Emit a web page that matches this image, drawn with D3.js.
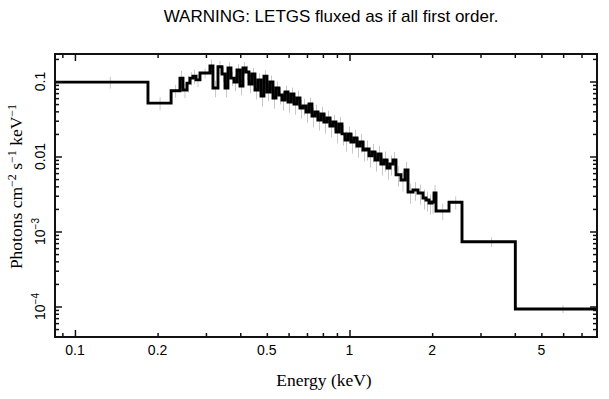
<!DOCTYPE html>
<html>
<head>
<meta charset="utf-8">
<script src="https://cdn.jsdelivr.net/npm/d3@7"></script>
<style>
  body { margin: 0; background: #fff; }
  svg { display: block; }
  .tick-label { font-family: 'Liberation Sans', Arial, sans-serif; font-size: 14px; fill: #000; }
  .axis-label { font-family: 'Liberation Serif', 'Times New Roman', serif; font-size: 17.5px; fill: #000; }
  .title-label { font-family: 'Liberation Sans', Arial, sans-serif; font-size: 17px; fill: #000; }
</style>
</head>
<body>
<svg width="609" height="399"></svg>
<script>
const svg = d3.select('svg');
const width = +svg.attr('width');
const height = +svg.attr('height');

// bin edges (keV), 87 edges -> 86 bins
const binEdges = [0.0846, 0.1845, 0.224, 0.2413, 0.2475, 0.2559, 0.2624, 0.2691, 0.2760, 0.2854,
  0.3103, 0.3182, 0.3319, 0.3432, 0.3520, 0.3609, 0.3701, 0.3796, 0.3892, 0.3991,
  0.4093, 0.4197, 0.4304, 0.4414, 0.4526, 0.4642, 0.4760, 0.4881, 0.5006, 0.5133,
  0.5264, 0.5398, 0.5536, 0.5677, 0.5821, 0.5970, 0.6122, 0.6278, 0.6438, 0.6602,
  0.6770, 0.6943, 0.7120, 0.7301, 0.7487, 0.7678, 0.7874, 0.8074, 0.8280, 0.8491,
  0.8707, 0.8929, 0.9157, 0.9390, 0.9629, 0.9875, 1.0126, 1.0384, 1.0649, 1.0920,
  1.1199, 1.1484, 1.1777, 1.2077, 1.2385, 1.2700, 1.3024, 1.3356, 1.3696, 1.4045,
  1.4403, 1.4770, 1.5400, 1.5929, 1.6335, 1.7030, 1.7760, 1.8525, 1.8997, 1.9482,
  1.9978, 2.0320, 2.0660, 2.304, 2.569, 4.018, 7.97];

// photons cm^-2 s^-1 keV^-1 per bin
const flux = [0.098, 0.0515, 0.0754, 0.111, 0.077, 0.095, 0.111, 0.118, 0.105, 0.130,
  0.161, 0.082, 0.157, 0.126, 0.0819, 0.151, 0.111, 0.0985, 0.142, 0.0871,
  0.151, 0.134, 0.0926, 0.126, 0.0770, 0.105, 0.0641, 0.118, 0.0724, 0.0985,
  0.0603, 0.0819, 0.0661, 0.0567, 0.0724, 0.0533, 0.0681, 0.0501, 0.0603, 0.0443,
  0.0471, 0.0392, 0.0501, 0.0347, 0.0392, 0.0307, 0.0369, 0.0288, 0.0326, 0.0255,
  0.0288, 0.0212, 0.0271, 0.0200, 0.0166, 0.0200, 0.0156, 0.0177, 0.0138, 0.0156,
  0.0122, 0.0126, 0.0102, 0.0115, 0.00898, 0.0108, 0.00794, 0.00898, 0.00703, 0.00794,
  0.00898, 0.0057, 0.00486, 0.00661, 0.00336, 0.00357, 0.00326, 0.00280, 0.00263, 0.00240,
  0.00247, 0.00326, 0.00188, 0.00245, 0.00073, 0.0000926];

// relative error on each bin
const errFrac = [0.18, 0.2, 0.2, 0.25, 0.22, 0.25, 0.2, 0.22, 0.2, 0.15,
  0.22, 0.25, 0.2, 0.22, 0.25, 0.2, 0.22, 0.25, 0.2, 0.25,
  0.2, 0.22, 0.25, 0.2, 0.25, 0.22, 0.28, 0.2, 0.25, 0.22,
  0.28, 0.22, 0.25, 0.28, 0.22, 0.28, 0.22, 0.28, 0.25, 0.28,
  0.25, 0.28, 0.22, 0.3, 0.25, 0.28, 0.25, 0.3, 0.25, 0.3,
  0.25, 0.3, 0.25, 0.3, 0.3, 0.25, 0.3, 0.28, 0.3, 0.28,
  0.3, 0.3, 0.3, 0.28, 0.3, 0.28, 0.3, 0.3, 0.3, 0.3,
  0.28, 0.3, 0.3, 0.28, 0.3, 0.28, 0.3, 0.3, 0.3, 0.3,
  0.3, 0.28, 0.25, 0.2, 0.15, 0.12];

const xMajorTicks = [0.1, 1];
const xMinorTicks = [0.09, 0.2, 0.3, 0.4, 0.5, 0.6, 0.7, 0.8, 0.9, 2, 3, 4, 5, 6, 7];
const xTickLabels = [0.1, 0.2, 0.5, 1, 2, 5];

const yMajorTicks = [1e-4, 1e-3, 0.01, 0.1];
const yMinorTicks = [5e-5, 6e-5, 7e-5, 8e-5, 9e-5,
  2e-4, 3e-4, 4e-4, 5e-4, 6e-4, 7e-4, 8e-4, 9e-4,
  2e-3, 3e-3, 4e-3, 5e-3, 6e-3, 7e-3, 8e-3, 9e-3,
  0.02, 0.03, 0.04, 0.05, 0.06, 0.07, 0.08, 0.09, 0.2];
const yTickLabels = [
  {v: 0.1, base: '0.1', exp: ''},
  {v: 0.01, base: '0.01', exp: ''},
  {v: 1e-3, base: '10', exp: '\u22123'},
  {v: 1e-4, base: '10', exp: '\u22124'}
];

const title = 'WARNING: LETGS fluxed as if all first order.';

const render = () => {
  const margin = {top: 54, right: 12, bottom: 62, left: 55};
  const innerWidth = width - margin.left - margin.right;
  const innerHeight = height - margin.top - margin.bottom;

  const xScale = d3.scaleLog()
    .domain([0.0846, 7.97])
    .range([0, innerWidth]);

  const yScale = d3.scaleLog()
    .domain([3.92e-5, 0.2326])
    .range([innerHeight, 0]);

  const g = svg.append('g')
    .attr('transform', `translate(${margin.left}, ${margin.top})`);

  // error bars (drawn first, under the histogram)
  const bins = flux.map((f, i) => ({
    lo: binEdges[i], hi: binEdges[i + 1], f, e: errFrac[i] * f
  }));

  g.selectAll('line.err').data(bins)
    .enter().append('line')
      .attr('class', 'err')
      .attr('x1', d => xScale((d.lo + d.hi) / 2))
      .attr('x2', d => xScale((d.lo + d.hi) / 2))
      .attr('y1', d => yScale(d.f + d.e))
      .attr('y2', d => yScale(d.f - d.e))
      .attr('stroke', '#c8c8c8')
      .attr('stroke-width', 1);

  // histogram steps
  const stepPoints = flux.map((f, i) => [binEdges[i], f]);
  stepPoints.push([binEdges[binEdges.length - 1], flux[flux.length - 1]]);

  const line = d3.line()
    .x(d => xScale(d[0]))
    .y(d => yScale(d[1]))
    .curve(d3.curveStepAfter);

  g.append('path')
    .datum(stepPoints)
    .attr('d', line)
    .attr('fill', 'none')
    .attr('stroke', '#000')
    .attr('stroke-width', 2.9)
    .attr('stroke-linejoin', 'miter');

  // ticks on all four sides, pointing inward
  const tickAxis = (axis, values, size, transform) => {
    const a = g.append('g')
      .attr('transform', transform)
      .call(axis.tickValues(values).tickSize(size).tickFormat(''));
    a.select('.domain').remove();
    a.selectAll('line').attr('stroke', '#111').attr('stroke-width', 1.5);
    return a;
  };

  tickAxis(d3.axisBottom(xScale), xMajorTicks, -7, `translate(0, ${innerHeight})`);
  tickAxis(d3.axisBottom(xScale), xMinorTicks, -4, `translate(0, ${innerHeight})`);
  tickAxis(d3.axisTop(xScale), xMajorTicks, -7, 'translate(0, 0)');
  tickAxis(d3.axisTop(xScale), xMinorTicks, -4, 'translate(0, 0)');
  tickAxis(d3.axisLeft(yScale), yMajorTicks, -7, 'translate(0, 0)');
  tickAxis(d3.axisLeft(yScale), yMinorTicks, -4, 'translate(0, 0)');
  tickAxis(d3.axisRight(yScale), yMajorTicks, -7, `translate(${innerWidth}, 0)`);
  tickAxis(d3.axisRight(yScale), yMinorTicks, -4, `translate(${innerWidth}, 0)`);

  // frame
  g.append('rect')
    .attr('width', innerWidth)
    .attr('height', innerHeight)
    .attr('fill', 'none')
    .attr('stroke', '#111')
    .attr('stroke-width', 2);

  // x tick labels
  g.selectAll('text.xtick').data(xTickLabels)
    .enter().append('text')
      .attr('class', 'tick-label')
      .attr('x', d => xScale(d))
      .attr('y', innerHeight + 18)
      .attr('text-anchor', 'middle')
      .text(d => d);

  // y tick labels, rotated
  const yLab = g.selectAll('text.ytick').data(yTickLabels)
    .enter().append('text')
      .attr('class', 'tick-label')
      .attr('text-anchor', 'middle')
      .attr('transform', d => `translate(-10, ${yScale(d.v)}) rotate(-90)`);
  yLab.append('tspan').text(d => d.base);
  yLab.append('tspan')
    .attr('dy', -6)
    .attr('font-size', 10)
    .text(d => d.exp);

  // axis titles
  g.append('text')
    .attr('class', 'axis-label')
    .attr('x', innerWidth / 2 - 2)
    .attr('y', innerHeight + 49)
    .attr('text-anchor', 'middle')
    .text('Energy (keV)');

  const yTitle = g.append('text')
    .attr('class', 'axis-label')
    .attr('text-anchor', 'middle')
    .attr('transform', `translate(-33, ${innerHeight / 2 - 9}) rotate(-90)`);
  const parts = [['Photons cm', ''], ['\u22122', 'sup'], [' s', ''], ['\u22121', 'sup'], [' keV', ''], ['\u22121', 'sup']];
  parts.forEach(([t, kind]) => {
    yTitle.append('tspan')
      .attr('dy', kind === 'sup' ? -6 : (t === 'Photons cm' ? 0 : 6))
      .attr('font-size', kind === 'sup' ? 12 : null)
      .text(t);
  });

  svg.append('text')
    .attr('class', 'title-label')
    .attr('x', 331)
    .attr('y', 22)
    .attr('text-anchor', 'middle')
    .text(title);
};

render();
</script>
</body>
</html>
